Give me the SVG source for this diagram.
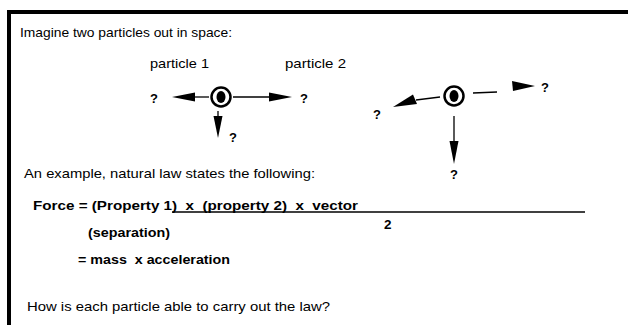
<svg xmlns="http://www.w3.org/2000/svg" width="628" height="325" viewBox="0 0 628 325">
<style>
.t{font-family:"Liberation Sans",Arial,sans-serif;font-size:13.5px;fill:#000}
.b{font-family:"Liberation Sans",Arial,sans-serif;font-size:13.5px;font-weight:bold;fill:#000}
.q{font-family:"Liberation Sans",Arial,sans-serif;font-size:13px;font-weight:bold;fill:#000}
.ln{stroke:#000;stroke-width:1.3;fill:none}
.ring{stroke:#000;stroke-width:2.5;fill:#fff}
</style>
<rect width="628" height="325" fill="#fff"/>
<g id="frame">
<rect x="7" y="10" width="621" height="4" fill="#000"/>
<rect x="7" y="10" width="4" height="315" fill="#000"/>
</g>
<g id="texts">
<text class="t" x="20" y="37" textLength="212" lengthAdjust="spacingAndGlyphs">Imagine two particles out in space:</text>
<text class="t" x="24" y="178" textLength="291" lengthAdjust="spacingAndGlyphs">An example, natural law states the following:</text>
<text class="b" x="33" y="210" xml:space="preserve" textLength="325" lengthAdjust="spacingAndGlyphs">Force = (Property 1)  x  (property 2)  x  vector</text>
<text class="b" x="384" y="229">2</text>
<text class="b" x="88" y="237" textLength="82" lengthAdjust="spacingAndGlyphs">(separation)</text>
<text class="b" x="78" y="264" xml:space="preserve" textLength="152" lengthAdjust="spacingAndGlyphs">= mass  x acceleration</text>
<text class="t" x="27" y="311" textLength="303" lengthAdjust="spacingAndGlyphs">How is each particle able to carry out the law?</text>
</g>
<g id="particle1">
<text class="t" x="150" y="68" textLength="59" lengthAdjust="spacingAndGlyphs">particle 1</text>
<circle class="ring" cx="221" cy="97" r="9.5"/>
<ellipse cx="221" cy="97" rx="4.5" ry="6" fill="#000"/>
</g>
<g id="particle2">
<text class="t" x="285" y="68" textLength="61" lengthAdjust="spacingAndGlyphs">particle 2</text>
<circle class="ring" cx="454" cy="96" r="9.5"/>
<ellipse cx="454" cy="96" rx="4.5" ry="6" fill="#000"/>
</g>
<g id="connectors">
<line class="ln" x1="172" y1="212" x2="585" y2="212"/>
<line class="ln" x1="194" y1="97" x2="209" y2="97"/>
<polygon points="172,97 195,92.5 195,101.5" fill="#000"/>
<line class="ln" x1="233" y1="97" x2="270" y2="97"/>
<polygon points="292,97 269,92.5 269,101.5" fill="#000"/>
<line class="ln" x1="218" y1="111" x2="218" y2="118"/>
<polygon points="218,138 213.5,116 222.5,116" fill="#000"/>
<text class="q" x="150" y="103">?</text>
<text class="q" x="300" y="103">?</text>
<text class="q" x="229" y="142">?</text>
<line class="ln" x1="473" y1="93" x2="497" y2="92"/>
<polygon points="535,86 512,81 513,91" fill="#000"/>
<text class="q" x="541" y="92">?</text>
<line class="ln" x1="440" y1="97" x2="416" y2="100"/>
<polygon points="393,107 413,94.5 417,104" fill="#000"/>
<text class="q" x="373" y="119">?</text>
<line class="ln" x1="454" y1="116" x2="454" y2="143"/>
<polygon points="454,164 449.5,141 458.5,141" fill="#000"/>
<text class="q" x="450" y="179">?</text>
</g>
</svg>
